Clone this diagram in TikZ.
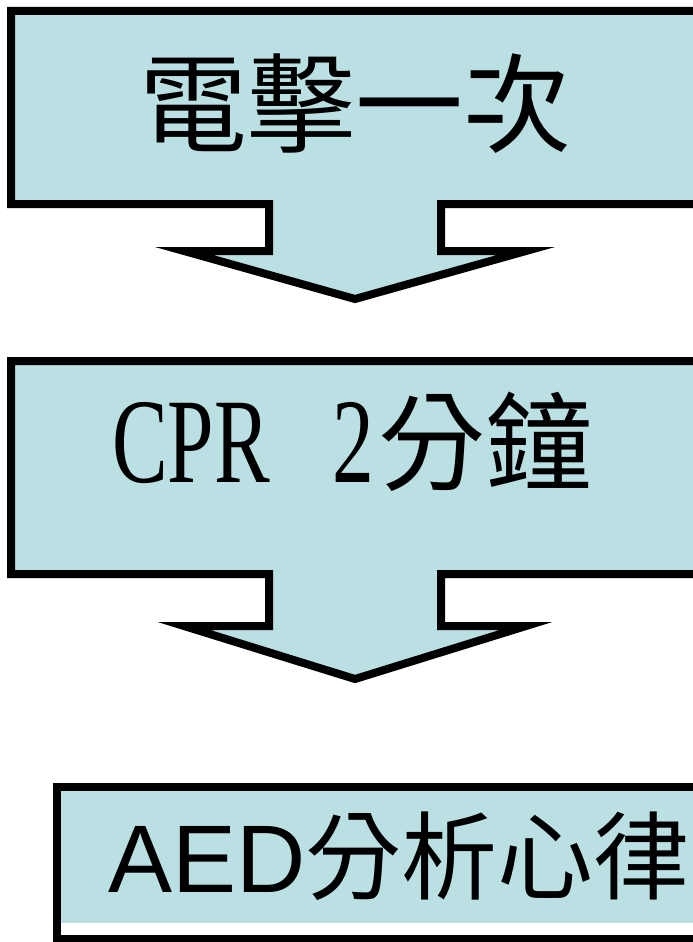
\documentclass[tikz,border=0pt]{standalone}
\usepackage{fontspec}
\usepackage{graphicx}
\newfontfamily\cjkfont{Noto Sans CJK TC}
\newfontfamily\seriffont{Liberation Serif}
\newfontfamily\sansfont{Liberation Sans}
\definecolor{boxblue}{RGB}{187,224,227}
\tikzset{
  callout/.style={draw=black, fill=boxblue, line width=8pt, line join=miter, miter limit=10},
  txt/.style={inner sep=0pt, outer sep=0pt, text=black}
}
\begin{document}
\begin{tikzpicture}[x=1pt,y=-1pt]
\useasboundingbox (0,0) rectangle (693,942);
\clip (0,0) rectangle (693,942);
% box 1 with arrow
\path[callout] (11,11) -- (720,11) -- (720,204) -- (441,204) -- (441,251) -- (526,251)
  -- (355,299) -- (184,251) -- (269,251) -- (269,204) -- (11,204) -- cycle;
% box 2 with arrow
\path[callout] (11,361) -- (720,361) -- (720,574) -- (441,574) -- (441,626) -- (526,626)
  -- (355,679) -- (184,626) -- (269,626) -- (269,574) -- (11,574) -- cycle;
% box 3
\fill[white] (57,787) rectangle (720,939);
\fill[boxblue] (57,787) rectangle (720,923);
\draw[line width=8pt] (57,787) rectangle (720,939);
% texts
\node[txt, font={\cjkfont\fontsize{108}{112}\selectfont}] (t1) at (355,104) {電擊一次};
\node[txt, anchor=base west] (t2) at (112,482)
  {\fontsize{121}{125}\seriffont\scalebox{0.69}[1]{CPR}\hspace{63pt}\scalebox{0.69}[1]{2}\hspace{4pt}{\cjkfont\fontsize{107}{110}\selectfont 分鐘}};
\node[txt, anchor=base west] (t3) at (108,892)
  {\fontsize{96}{100}\sansfont AED{\cjkfont 分析心律}};
\end{tikzpicture}
\end{document}
